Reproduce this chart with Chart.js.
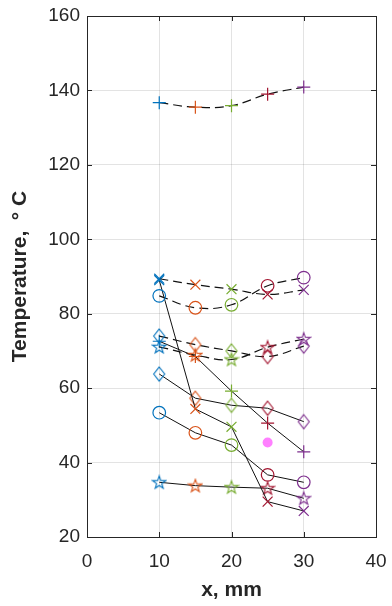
<!DOCTYPE html>
<html>
<head>
<meta charset="utf-8">
<script src="https://cdn.jsdelivr.net/npm/chart.js@4/dist/chart.umd.min.js"></script>
<style>
html,body{margin:0;padding:0;background:#fff;}
canvas{display:block;}
</style>
</head>
<body>
<canvas id="c" width="392" height="606"></canvas>
<script>
// ---- data ----
const xPositions = [10, 15, 20, 25, 30];
const xTicks = [0, 10, 20, 30, 40];
const yTicks = [20, 40, 60, 80, 100, 120, 140, 160];

// dashed (upper) group
const dashPlus    = [136.7, 135.5, 135.9, 139.0, 140.9];
const dashCross   = [89.4, 87.8, 86.6, 85.2, 86.4];
const dashCircle  = [84.8, 81.6, 82.4, 87.5, 89.7];
const dashDiamond = [74.0, 71.7, 70.0, 68.5, 71.3];
const dashStar    = [71.1, 68.9, 67.7, 71.0, 73.2];

// solid (lower) group
const solidPlus    = [72.6, 68.5, 59.2, 50.6, 42.9];
const solidCross   = [89.0, 54.4, 49.6, 29.5, 27.0];
const solidCircle  = [53.4, 48.0, 44.7, 36.7, 34.7];
const solidDiamond = [63.8, 57.3, 55.4, 54.6, 51.0];
const solidStar    = [34.7, 33.8, 33.4, 33.1, 30.4];

// single extra point
const extraX = [25];
const extraY = [45.4];

// ---- styles ----
const COLORS = ['#0072BD', '#D95319', '#77AC30', '#A2142F', '#7E2F8E'];
const AXIS = '#262626';
const FONT = '"Liberation Sans", Arial, Helvetica, sans-serif';

function makeStar(color) {
  const c = document.createElement('canvas');
  c.width = 16; c.height = 16;
  const g = c.getContext('2d');
  g.strokeStyle = color; g.lineWidth = 1.1;
  g.beginPath();
  const R = 6.8, r = 2.7;
  for (let i = 0; i < 10; i++) {
    const a = -Math.PI / 2 + i * Math.PI / 5;
    const rad = i % 2 === 0 ? R : r;
    const x = 8 + rad * Math.cos(a), y = 8.5 + rad * Math.sin(a);
    if (i === 0) g.moveTo(x, y); else g.lineTo(x, y);
  }
  g.closePath(); g.stroke();
  return c;
}
function makeDiamond(color) {
  const c = document.createElement('canvas');
  c.width = 14; c.height = 18;
  const g = c.getContext('2d');
  g.strokeStyle = color; g.lineWidth = 1.1;
  g.beginPath();
  g.moveTo(7, 2); g.lineTo(12.5, 9); g.lineTo(7, 16); g.lineTo(1.5, 9);
  g.closePath(); g.stroke();
  return c;
}
const starImgs = COLORS.map(makeStar);
const diamondImgs = COLORS.map(makeDiamond);

function pts(ys) { return xPositions.map((x, i) => ({x: x, y: ys[i]})); }

function series(ys, marker, dashed) {
  const ds = {
    data: pts(ys),
    showLine: true,
    borderColor: '#111',
    borderWidth: dashed ? 1.2 : 1,
    borderDash: dashed ? [9, 5] : [],
    tension: dashed ? 0.4 : 0,
    pointBorderColor: COLORS,
    pointBackgroundColor: 'rgba(0,0,0,0)',
    pointBorderWidth: 1.2,
    fill: false
  };
  if (marker === 'plus') { ds.pointStyle = 'cross'; ds.pointRadius = 6.5; }
  else if (marker === 'x') { ds.pointStyle = 'crossRot'; ds.pointRadius = 7; }
  else if (marker === 'o') { ds.pointStyle = 'circle'; ds.pointRadius = 6.3; }
  else if (marker === 'd') { ds.pointStyle = diamondImgs; ds.pointRadius = 6; }
  else if (marker === 'p') { ds.pointStyle = starImgs; ds.pointRadius = 6; }
  return ds;
}

const datasets = [
  series(dashPlus, 'plus', true),
  series(dashCross, 'x', true),
  series(dashCircle, 'o', true),
  series(dashDiamond, 'd', true),
  series(dashStar, 'p', true),
  series(solidPlus, 'plus', false),
  series(solidCross, 'x', false),
  series(solidCircle, 'o', false),
  series(solidDiamond, 'd', false),
  series(solidStar, 'p', false),
  {
    data: extraX.map((x, i) => ({x: x, y: extraY[i]})),
    showLine: false,
    pointStyle: 'circle',
    pointRadius: 5,
    pointBackgroundColor: '#FF80FF',
    pointBorderColor: '#FF80FF',
    pointBorderWidth: 0
  }
];

const frame = {
  id: 'frame',
  afterDraw(chart) {
    const {ctx, chartArea: a, scales} = chart;
    ctx.save();
    ctx.strokeStyle = AXIS; ctx.lineWidth = 1;
    const L = 5;
    ctx.beginPath();
    xTicks.forEach(v => {
      const px = Math.round(scales.x.getPixelForValue(v)) + 0.5;
      ctx.moveTo(px, a.bottom); ctx.lineTo(px, a.bottom - L);
      ctx.moveTo(px, a.top); ctx.lineTo(px, a.top + L);
    });
    yTicks.forEach(v => {
      const py = Math.round(scales.y.getPixelForValue(v)) + 0.5;
      ctx.moveTo(a.left, py); ctx.lineTo(a.left + L, py);
      ctx.moveTo(a.right, py); ctx.lineTo(a.right - L, py);
    });
    ctx.stroke();
    ctx.strokeRect(Math.round(a.left) + 0.5, Math.round(a.top) + 0.5,
                   Math.round(a.right - a.left), Math.round(a.bottom - a.top));
    ctx.restore();
  }
};

new Chart(document.getElementById('c'), {
  type: 'scatter',
  data: {datasets: datasets},
  options: {
    responsive: false,
    animation: false,
    devicePixelRatio: 1,
    layout: {autoPadding: false, padding: {top: 16, right: 16, left: 0, bottom: 0}},
    plugins: {legend: {display: false}, tooltip: {enabled: false}},
    scales: {
      x: {
        type: 'linear', min: 0, max: 40,
        afterBuildTicks: s => { s.ticks = xTicks.map(v => ({value: v})); },
        afterFit: s => { s.height = 69; s.paddingLeft = 0; s.paddingRight = 0; },
        ticks: {color: AXIS, font: {family: FONT, size: 19}, padding: 13, maxRotation: 0},
        grid: {color: 'rgba(38,38,38,0.13)', drawTicks: false},
        border: {display: false},
        title: {display: true, text: 'x, mm', color: AXIS,
                font: {family: FONT, size: 21, weight: 'bold'}, padding: {top: 0, bottom: 3}}
      },
      y: {
        type: 'linear', min: 20, max: 160,
        afterBuildTicks: s => { s.ticks = yTicks.map(v => ({value: v})); },
        afterFit: s => { s.width = 87; s.paddingTop = 0; s.paddingBottom = 0; },
        ticks: {color: AXIS, font: {family: FONT, size: 19}, padding: 7},
        grid: {color: 'rgba(38,38,38,0.13)', drawTicks: false},
        border: {display: false},
        title: {display: true, text: 'Temperature,\u2002\u00B0 C', color: AXIS,
                font: {family: FONT, size: 21, weight: 'bold'}, padding: {top: 8, bottom: 0}}
      }
    }
  },
  plugins: [frame]
});
</script>
</body>
</html>
